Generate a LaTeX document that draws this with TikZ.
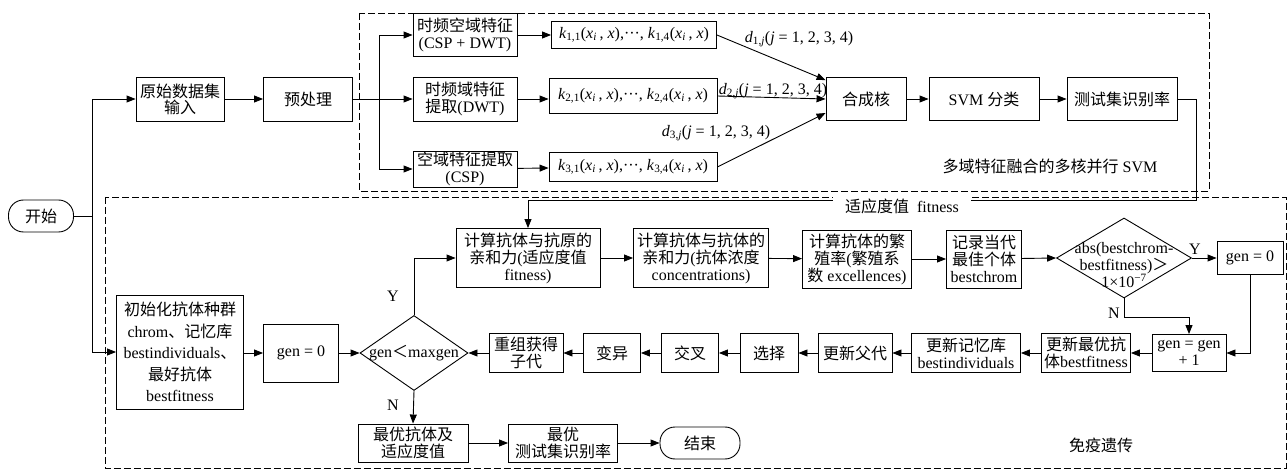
\documentclass[tikz,border=0pt]{standalone}
\usepackage{fix-cm}
\usepackage{amsmath}
\usepackage{fontspec}
\setmainfont{Liberation Serif}
\newfontfamily\cjk{Noto Sans CJK SC}
\newcommand{\zh}[1]{{\cjk #1}}
\newcommand{\kfun}[2]{\textit{k}\textsubscript{#1,#2}(\textit{x}\textsubscript{\textit{i}}\,, \textit{x})}
\newcommand{\dwt}[1]{\textit{d}\textsubscript{#1,\textit{j}}(\textit{j} = 1, 2, 3, 4)}
\usetikzlibrary{arrows.meta,shapes.geometric,calc}

\tikzset{
  box/.style={draw, line width=0.9pt, align=center, inner sep=1pt, font=\fontsize{16}{17}\selectfont},
  term/.style={box, rounded corners=15pt},
  decision/.style={draw, line width=0.9pt, diamond, inner sep=0pt},
  txt/.style={inner sep=1pt, align=center, font=\fontsize{16}{17}\selectfont},
  arr/.style={line width=0.9pt, -{Triangle[length=9pt,width=7pt]}},
  ln/.style={line width=0.9pt},
  dashbox/.style={line width=0.9pt, dash pattern=on 7pt off 3pt},
}

\begin{document}
\begin{tikzpicture}[x=1pt,y=1pt,yscale=-1,xscale=1]
\useasboundingbox (0,0) rectangle (1288,470);

%Shape: Dashed frames
\draw[dashbox] (359,13) rectangle (1209,191);
\draw[dashbox] (105,197) rectangle (1286,468);

%Shape: Top part
\node[term, minimum width=65pt, minimum height=32pt] (start) at (41,216) {\zh{开始}};
\node[box, minimum width=88pt, minimum height=44pt, font=\fontsize{16}{16}\selectfont] (raw) at (180,99) {\zh{原始数据集}\\\zh{输入}};
\node[box, minimum width=89pt, minimum height=44pt] (pre) at (308,99) {\zh{预处理}};
\node[box, minimum width=104pt, minimum height=43pt] (f1) at (465,35) {\zh{时频空域特征}\\(CSP + DWT)};
\node[box, minimum width=104pt, minimum height=44pt] (f2) at (465,99) {\zh{时频域特征}\\\zh{提取}(DWT)};
\node[box, minimum width=104pt, minimum height=36pt] (f3) at (465,169) {\zh{空域特征提取}\\(CSP)};
\node[box, minimum width=165pt, minimum height=27pt] (k1) at (634,35) {\kfun{1}{1},···, \kfun{1}{4}};
\node[box, minimum width=168pt, minimum height=35pt] (k2) at (633,96) {\kfun{2}{1},···, \kfun{2}{4}};
\node[box, minimum width=168pt, minimum height=29pt] (k3) at (633,167) {\kfun{3}{1},···, \kfun{3}{4}};
\node[box, minimum width=80pt, minimum height=43pt] (comb) at (866,99) {\zh{合成核}};
\node[box, minimum width=110pt, minimum height=43pt] (svm) at (984,99) {SVM \zh{分类}};
\node[box, minimum width=110pt, minimum height=43pt] (acc) at (1122,99) {\zh{测试集识别率}};

%Shape: Bottom part
\node[box, minimum width=127pt, minimum height=114pt, font=\fontsize{16}{21.5}\selectfont] (init) at (180,352) {\zh{初始化抗体种群}\\chrom\zh{、记忆库}\\bestindividuals\zh{、}\\\zh{最好抗体}\\bestfitness};
\node[box, minimum width=75pt, minimum height=58pt] (g0) at (301,353) {gen = 0};
\node[decision, minimum width=108pt, minimum height=75pt] (cond) at (414,353) {};
\node[box, minimum width=144pt, minimum height=59pt] (aff1) at (528,258) {\zh{计算抗体与抗原的}\\\zh{亲和力}(\zh{适应度值}\\fitness)};
\node[box, minimum width=135pt, minimum height=59pt] (aff2) at (701,258) {\zh{计算抗体与抗体的}\\\zh{亲和力}(\zh{抗体浓度}\\concentrations)};
\node[box, minimum width=109pt, minimum height=58pt] (rep) at (857,259) {\zh{计算抗体的繁}\\\zh{殖率}(\zh{繁殖系}\\\zh{数} excellences)};
\node[box, minimum width=75pt, minimum height=58pt] (rec) at (984,259) {\zh{记录当代}\\\zh{最佳个体}\\bestchrom};
\node[decision, minimum width=135pt, minimum height=80pt] (chk) at (1124,258) {};
\node[box, minimum width=66pt, minimum height=33pt] (g0b) at (1250,258) {gen = 0};
\node[box, minimum width=74pt, minimum height=37pt] (inc) at (1189,353) {gen = gen\\+ 1};
\node[box, minimum width=89pt, minimum height=39pt] (upb) at (1086,353) {\zh{更新最优抗}\\\zh{体}bestfitness};
\node[box, minimum width=109pt, minimum height=39pt] (upm) at (966,353) {\zh{更新记忆库}\\bestindividuals};
\node[box, minimum width=74pt, minimum height=39pt] (upp) at (855,353) {\zh{更新父代}};
\node[box, minimum width=58pt, minimum height=39pt] (sel) at (769,353) {\zh{选择}};
\node[box, minimum width=57pt, minimum height=39pt] (crs) at (690,353) {\zh{交叉}};
\node[box, minimum width=57pt, minimum height=39pt] (mut) at (612,353) {\zh{变异}};
\node[box, minimum width=74pt, minimum height=39pt] (regen) at (526,353) {\zh{重组获得}\\\zh{子代}};
\node[box, minimum width=110pt, minimum height=38pt] (best) at (413,443) {\zh{最优抗体及}\\\zh{适应度值}};
\node[box, minimum width=109pt, minimum height=38pt] (bacc) at (563,443) {\zh{最优}\\\zh{测试集识别率}};
\node[term, minimum width=80pt, minimum height=32pt] (stop) at (700,443) {\zh{结束}};

% Text Node
\node[txt] (condtxt) at (414,353) {gen\zh{＜}maxgen};
\node[txt, font=\fontsize{16}{15.5}\selectfont] (chktxt) at (1124,265) {abs(bestchrom-\\bestfitness)\zh{＞}\\1×10\textsuperscript{−7}};
\node[txt] (d1) at (799,39) {\dwt{1}};
\node[txt] (d2) at (773,91) {\dwt{2}};
\node[txt] (d3) at (716,133) {\dwt{3}};
\node[txt] (ytop) at (393,296) {Y};
\node[txt] (ntop) at (393,405) {N};
\node[txt] (yright) at (1195,249) {Y};
\node[txt] (nright) at (1114,313) {N};
\node[txt] (svmlab) at (1050,166) {\zh{多域特征融合的多核并行} SVM};
\node[txt] (immlab) at (1101,445) {\zh{免疫遗传}};

%Straight Lines
\coordinate (sp) at (92,216);
\coordinate (sp2) at (379,99);
\coordinate (fitr) at (1196,200);
\draw[ln] (start.east) -- (sp);
\draw[arr] (sp) |- (raw.west);
\draw[arr] (sp) |- (init.west);
\draw[arr] (raw) -- (pre);
\draw[ln] (pre.east) -- (sp2);
\draw[arr] (sp2) |- (f1.west);
\draw[arr] (sp2) -- (f2.west);
\draw[arr] (sp2) |- (f3.west);
\draw[arr] (f1) -- (k1);
\draw[arr] (f2.east) -- (f2.east -| k2.west);
\draw[arr] (f3) -- (k3);
\draw[arr] (k1.east) -- ($(comb.north west)+(0,3)$);
\draw[arr] (k2.east) -- (comb.west);
\draw[arr] (k3.east) -- ($(comb.west)+(0,14)$);
\draw[arr] (comb) -- (svm);
\draw[arr] (svm) -- (acc);
\draw[arr] (acc.east) -| (fitr) -- (fitr -| aff1.north) -- (aff1.north);

\draw[arr] (init.east |- g0) -- (g0);
\draw[arr] (g0) -- (cond.west);
\draw[arr] (cond.north) |- (aff1.west);
\draw[arr] (cond.south) -- (best.north);
\draw[arr] (aff1) -- (aff2);
\draw[arr] (aff2) -- (rep);
\draw[arr] (rep) -- (rec);
\draw[arr] (rec) -- (chk.west);
\draw[arr] (chk.east) -- (g0b.west);
\draw[arr] (g0b.south) |- (inc.east);
\draw[arr] (chk.south) -- ++(0,19) -| (inc.north);
\draw[arr] (inc) -- (upb);
\draw[arr] (upb) -- (upm);
\draw[arr] (upm) -- (upp);
\draw[arr] (upp) -- (sel);
\draw[arr] (sel) -- (crs);
\draw[arr] (crs) -- (mut);
\draw[arr] (mut) -- (regen);
\draw[arr] (regen) -- (cond.east);
\draw[arr] (best) -- (bacc);
\draw[arr] (bacc) -- (stop);

% Text Node
\node[txt, fill=white, inner xsep=12pt, inner ysep=3pt] (fitlab) at (902,206) {\zh{适应度值}\hspace{8pt}fitness};

\end{tikzpicture}
\end{document}
